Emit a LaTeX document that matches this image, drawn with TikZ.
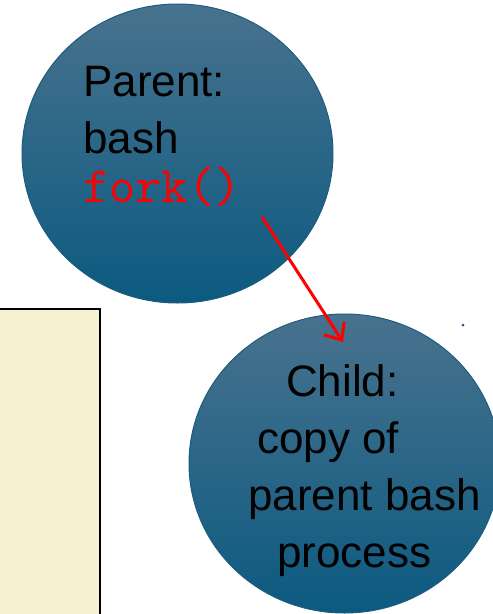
\documentclass[tikz,border=0pt]{standalone}
\usepackage{fontspec}
\setmainfont{Liberation Sans}
\usepackage{tikz}
\usepackage{xcolor}
\usetikzlibrary{arrows.meta,shapes.geometric}

\definecolor{proctop}{RGB}{72,114,142}
\definecolor{procmid}{RGB}{22,97,132}
\definecolor{procbot}{RGB}{12,90,128}
\definecolor{procedge}{RGB}{30,92,126}
\definecolor{notefill}{RGB}{245,241,208}
\definecolor{dotblue}{RGB}{20,80,150}

\tikzset{
  proc/.style={ellipse, draw=procedge, line width=1pt, top color=proctop, middle color=procmid,
    bottom color=procbot, minimum width=311pt, minimum height=299pt, outer sep=0pt},
  proctext/.style={inner sep=0pt, font=\fontsize{44}{57}\selectfont},
  forkarrow/.style={red, line width=3pt, -{Straight Barb[length=14pt, width=24pt, line width=3pt]}}
}

\begin{document}
\begin{tikzpicture}[x=1pt, y=-1pt]
  \useasboundingbox (0,0) rectangle (493,614);
  \clip (0,0) rectangle (493,614);

  \node[draw=black, line width=2pt, fill=notefill, anchor=north east, outer sep=0pt,
        minimum width=120pt, minimum height=330pt] (note) at (100,309) {};

  \node[proc] (parent) at (177.5,153.5) {};
  \node[proctext, align=left, anchor=north west] (parenttext) at (83,66)
    {Parent:\\bash\\[-8pt]\textcolor{red}{\fontsize{51}{57}\selectfont\ttfamily fork()}};

  \node[proc] (child) at (344.5,463.5) {};
  \node[proctext, align=left, anchor=north west] (childtext) at (248,364)
    {\hspace*{38pt}Child:\\\hspace*{9pt}copy of\\parent bash\\\hspace*{29pt}process};

  \node[circle, fill=dotblue, inner sep=0pt, minimum size=3pt] (dot) at (463,325) {};

  \coordinate (forkpt) at (262,217);
  \coordinate (childpt) at (343,342);
  \draw[forkarrow] (forkpt) -- (childpt);
\end{tikzpicture}
\end{document}
